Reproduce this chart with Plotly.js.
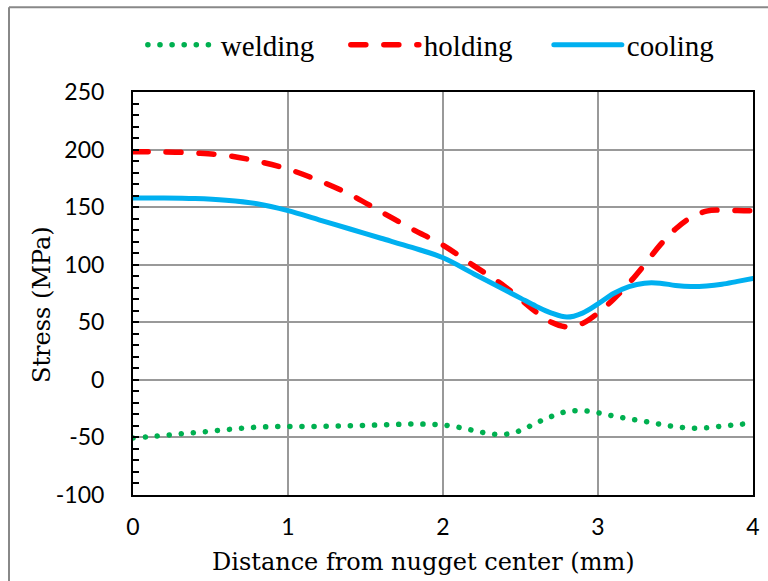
<!DOCTYPE html>
<html>
<head>
<meta charset="utf-8">
<script src="https://cdn.plot.ly/plotly-3.0.1.min.js"></script>
<style>
html,body{margin:0;padding:0;background:#fff;}
#chart{width:768px;height:581px;}
path.js-line{stroke-linecap:round;}
</style>
</head>
<body>
<div id="chart"></div>
<script>
// distance from nugget center (mm)
const xWelding = [0,0.1,0.2,0.3,0.4,0.5,0.6,0.7,0.8,0.9,1.0,1.1,1.2,1.3,1.4,1.5,1.6,1.7,1.8,1.9,2.0,2.1,2.2,2.3,2.4,2.5,2.6,2.7,2.8,2.9,3.0,3.1,3.2,3.3,3.4,3.5,3.6,3.7,3.8,3.9,4.0];
const welding = [-50.5,-49.5,-48.3,-47,-45.8,-44.6,-43.3,-42,-41.1,-40.6,-40.5,-40.5,-40.4,-40.2,-39.9,-39.5,-39.1,-38.7,-38.4,-38.5,-39.2,-41.2,-44,-46.7,-47.3,-44,-37.5,-31.8,-27.5,-26.8,-28.6,-31.4,-33.9,-36,-38.6,-40.7,-41.9,-41.7,-40.2,-38.9,-37.4];

const xHolding = [0,0.2,0.4,0.6,0.8,1.0,1.2,1.4,1.6,1.8,2.0,2.2,2.4,2.6,2.7,2.8,2.9,3.0,3.1,3.2,3.3,3.4,3.5,3.6,3.7,3.8,3.9,4.0];
const holding = [198,198,197,195,190,183,173,161,146,131,117,99,81,59,50,46,49,58,70,84,100,117,131,141,146.5,147.5,147,147];

const xCooling = [0,0.2,0.4,0.6,0.8,1.0,1.2,1.4,1.6,1.8,2.0,2.2,2.4,2.5,2.6,2.7,2.8,2.9,3.0,3.1,3.2,3.3,3.4,3.5,3.6,3.7,3.8,3.9,4.0];
const cooling = [158,158,157.5,156,153,147,139,131,123,115,106,92,78,71,64,58,54.5,58,66,75,81,84,84,82,81,81.5,83,85.5,88];

const seriesNames = ['welding','holding','cooling'];
const xTicks = [0,1,2,3,4];
const yTicks = [-100,-50,0,50,100,150,200,250];
const xTitle = 'Distance from nugget center (mm)';
const yTitle = 'Stress (MPa)';

const traces = [
  {x:xWelding, y:welding, name:seriesNames[0], type:'scatter', mode:'lines',
   line:{color:'#00B050', width:5.5, dash:'0.1px,12px', shape:'spline', smoothing:1}},
  {x:xHolding, y:holding, name:seriesNames[1], type:'scatter', mode:'lines',
   line:{color:'#FF0000', width:5.5, dash:'15px,18px', shape:'spline', smoothing:1}},
  {x:xCooling, y:cooling, name:seriesNames[2], type:'scatter', mode:'lines',
   line:{color:'#00B0F0', width:5, shape:'spline', smoothing:1}}
];

const titleFont = {family:'DejaVu Serif, serif', size:24, color:'#000'};

const layout = {
  width:768, height:581,
  margin:{l:133, r:15, t:92, b:86},
  paper_bgcolor:'#fff', plot_bgcolor:'#fff',
  showlegend:true,
  legend:{orientation:'h', x:0.507, xanchor:'center', y:1.117, yanchor:'middle',
    font:{family:'Liberation Serif, serif', size:29, color:'#000'},
    itemwidth:68, entrywidth:120, traceorder:'normal', bgcolor:'rgba(0,0,0,0)'},
  xaxis:{range:[0,4], tickvals:xTicks, ticktext:xTicks.map(String),
    showgrid:true, gridcolor:'#999', gridwidth:2,
    showline:true, linecolor:'#000', linewidth:2, mirror:true,
    ticks:'', zeroline:false,
    tickfont:{family:'Lato, sans-serif', size:23, color:'#000'},
    ticklabelstandoff:10},
  yaxis:{range:[-100,250], tickvals:yTicks, ticktext:yTicks.map(String),
    showgrid:true, gridcolor:'#999', gridwidth:2,
    zeroline:true, zerolinecolor:'#999', zerolinewidth:2,
    showline:true, linecolor:'#000', linewidth:2, mirror:true,
    ticks:'inside', ticklen:6, tickwidth:2, tickcolor:'#000',
    minor:{dtick:10, ticks:'inside', ticklen:6, tickwidth:2, tickcolor:'#000', showgrid:false},
    tickfont:{family:'Lato, sans-serif', size:23, color:'#000'},
    ticklabelstandoff:22},
  annotations:[
    {text:xTitle, xref:'paper', yref:'paper', x:(423-133)/620, y:(495-562)/403,
     xanchor:'center', yanchor:'middle', showarrow:false, font:titleFont},
    {text:yTitle, xref:'paper', yref:'paper', x:(42-133)/620, y:(495-305)/403,
     xanchor:'center', yanchor:'middle', textangle:-90, showarrow:false, font:titleFont}
  ],
  shapes:[
    {type:'line', xref:'paper', yref:'paper', x0:-0.2, x1:-0.2, y0:1.21, y1:-0.3, line:{color:'#888', width:2}},
    {type:'line', xref:'paper', yref:'paper', x0:-0.2, x1:1.1, y0:1.21, y1:1.21, line:{color:'#888', width:2}}
  ]
};

Plotly.newPlot('chart', traces, layout, {displayModeBar:false, staticPlot:true});
</script>
</body>
</html>
